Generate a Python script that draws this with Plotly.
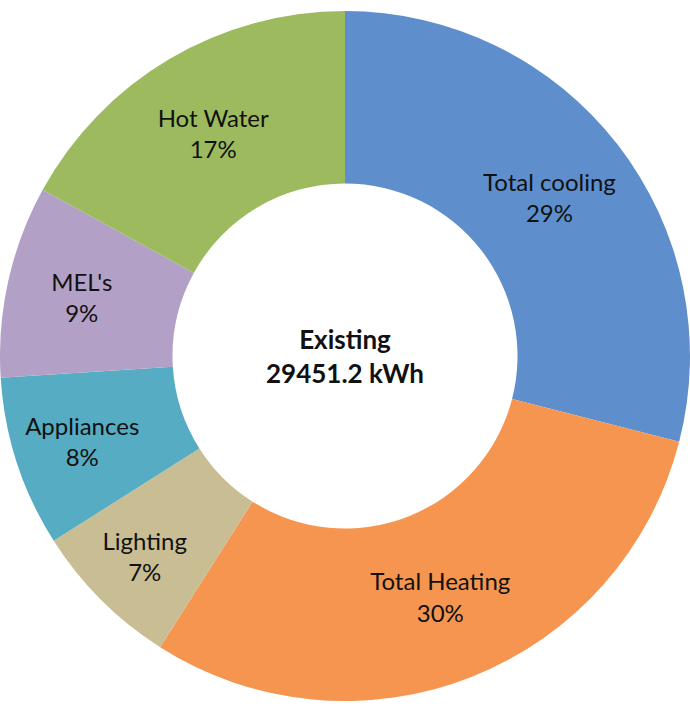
import plotly.graph_objects as go

# Energy use breakdown, existing building (% of total)
categories = ['Total cooling', 'Total Heating', 'Lighting', 'Appliances', "MEL's", 'Hot Water']
shares = [29, 30, 7, 8, 9, 17]
total_kwh = '29451.2'
colours = ['#5E8FCC', '#F5954F', '#C8BD93', '#56ACC2', '#B3A0C6', '#9DBB5E']

fig = go.Figure(go.Pie(
    labels=categories,
    values=shares,
    hole=0.5,
    sort=False,
    direction='clockwise',
    rotation=0,
    marker=dict(colors=colours, line=dict(width=0)),
    texttemplate='%{label}<br>%{percent:.0%}',
    textposition='inside',
    insidetextorientation='horizontal',
    textfont=dict(family='Lato', size=24, color='#111111'),
    hoverinfo='skip',
))

fig.add_annotation(
    text='<b>Existing<br>%s kWh</b>' % total_kwh,
    x=0.5, y=0.5, xref='paper', yref='paper', showarrow=False,
    font=dict(family='Lato', size=26, color='#111111'),
)

fig.update_layout(
    width=690, height=712,
    margin=dict(l=0, r=0, t=0, b=0),
    showlegend=False,
    paper_bgcolor='white',
    uniformtext=dict(minsize=24, mode='show'),
)

# page body has a default 8px margin, drop it so the figure fills the window
fig.write_html('out.html', config={'displayModeBar': False},
               post_script="document.body.style.margin='0';")
